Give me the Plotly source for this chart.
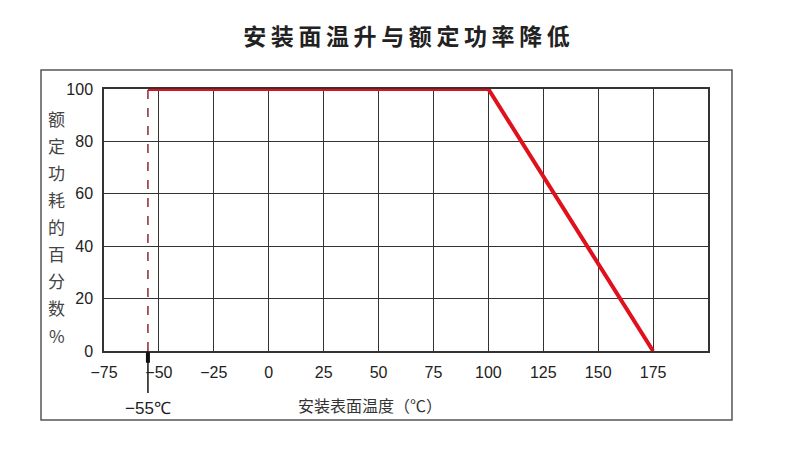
"""Surface temperature rise vs. rated power derating curve."""

import plotly.graph_objects as go

# Data
temp_c = [-55, 100, 175]
power_pct = [100, 100, 0]
min_temp = -55

x_ticks = [-75, -50, -25, 0, 25, 50, 75, 100, 125, 150, 175]
y_ticks = [0, 20, 40, 60, 80, 100]
x_range = [-75, 200]
y_range = [0, 100]

title_text = "安装面温升与额定功率降低"
y_title_chars = list("额定功耗的百分数%")
x_title_text = "安装表面温度（℃）"
min_label = "−55℃"

CJK = "Noto Sans CJK SC"
TICK_FONT = "Liberation Sans Narrow, Liberation Sans, Arial"
GRID = "#333333"

fig = go.Figure()

fig.add_trace(
    go.Scatter(
        x=temp_c,
        y=power_pct,
        mode="lines",
        line=dict(color="#e0101c", width=4),
        showlegend=False,
        hoverinfo="skip",
    )
)

# -55 degree marker: dashed inside the grid, solid stub below the axis
fig.add_shape(
    type="line", xref="x", yref="y",
    x0=min_temp, x1=min_temp, y0=y_range[0], y1=y_range[1],
    line=dict(color="#8a2a36", width=1.5, dash="dash"),
)
fig.add_shape(
    type="line", xref="x", yref="paper",
    x0=min_temp, x1=min_temp, y0=0, y1=-0.16,
    line=dict(color="#222222", width=1.6),
)
fig.add_shape(
    type="line", xref="x", yref="paper",
    x0=min_temp, x1=min_temp, y0=-0.005, y1=-0.045,
    line=dict(color="#111111", width=4),
)
fig.add_annotation(
    x=min_temp, xref="x", y=-0.218, yref="paper",
    xanchor="center", yanchor="middle",
    text=min_label, showarrow=False,
    font=dict(family=TICK_FONT, size=17, color="#222222"),
)

# outer frame
fig.add_shape(
    type="rect", xref="paper", yref="paper",
    x0=-0.1043, x1=1.0397, y0=-0.2634, y1=1.0725,
    line=dict(color="#555555", width=1.5),
)

# vertical y-axis title, one character per row
n = len(y_title_chars)
for i, ch in enumerate(y_title_chars):
    fig.add_annotation(
        x=-0.078, xref="paper",
        y=0.889 - i * (0.889 - 0.061) / (n - 1), yref="paper",
        xanchor="center", yanchor="middle",
        text=ch, showarrow=False,
        font=dict(family=CJK, size=17, color="#444444"),
    )

fig.add_annotation(
    x=0.44, xref="paper", y=-0.206, yref="paper",
    xanchor="center", yanchor="middle",
    text=x_title_text, showarrow=False,
    font=dict(family=CJK, size=16, color="#333333"),
)

fig.update_layout(
    width=797,
    height=456,
    paper_bgcolor="white",
    plot_bgcolor="white",
    margin=dict(l=96, r=97, t=81, b=113),
    title=dict(
        text="\u2009".join(title_text),
        x=0.5, xanchor="center", y=0.936, yanchor="middle",
        font=dict(family=CJK, size=23, color="#222222", weight="bold"),
    ),
)

fig.update_xaxes(
    range=x_range,
    tickvals=x_ticks,
    ticktext=[str(v).replace("-", "−") for v in x_ticks],
    showgrid=True, gridcolor=GRID, gridwidth=1.3,
    showline=True, linecolor=GRID, linewidth=1.5, mirror=True,
    zeroline=False, ticks="",
    tickfont=dict(family=TICK_FONT, size=16, color="#222222"),
    ticklabelstandoff=6,
)
fig.update_yaxes(
    range=y_range,
    tickvals=y_ticks,
    showgrid=True, gridcolor=GRID, gridwidth=1.3,
    showline=True, linecolor=GRID, linewidth=1.5, mirror=True,
    zeroline=False, ticks="",
    tickfont=dict(family=TICK_FONT, size=16, color="#222222"),
    ticklabelstandoff=6,
)

fig.write_html("out.html")
